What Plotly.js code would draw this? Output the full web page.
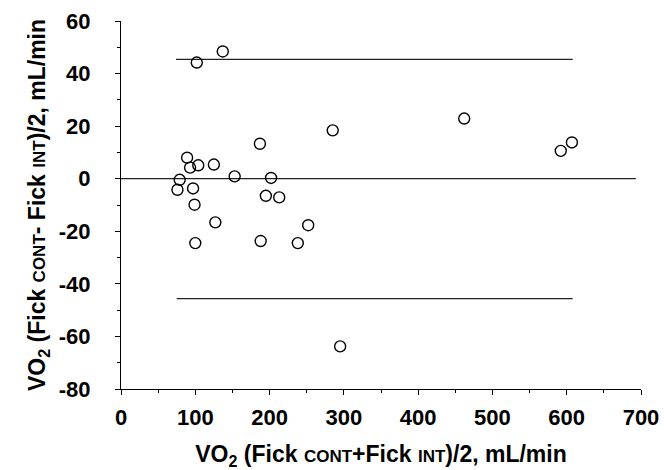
<!DOCTYPE html>
<html>
<head>
<meta charset="utf-8">
<script src="https://cdn.plot.ly/plotly-3.0.1.min.js"></script>
<style>html,body{margin:0;padding:0;background:#fff;}#chart{width:664px;height:470px;}</style>
</head>
<body>
<div id="chart"></div>
<script>
// Mean of the two methods (x) and difference (y), mL/min
var meanVO2 = [137, 102, 285, 187, 89, 93, 104, 125, 153, 202, 79, 76, 97, 195, 213, 99, 127, 252, 100, 188, 238, 295, 462, 592, 607];
var diffVO2 = [48.4, 44.2, 18.4, 13.3, 8.0, 4.2, 5.1, 5.4, 0.9, 0.3, -0.4, -4.2, -3.7, -6.5, -7.1, -9.9, -16.6, -17.7, -24.5, -23.7, -24.5, -63.8, 22.9, 10.6, 13.8];

// Limits of agreement and mean bias lines
var upperLimit = 45.4;
var upperX = [74, 608];
var biasLine = 0;
var biasX = [0, 693];
var lowerLimit = -45.6;
var lowerX = [75, 608];

var xTicks = [0, 100, 200, 300, 400, 500, 600, 700];
var yTicks = [-80, -60, -40, -20, 0, 20, 40, 60];

var lineStyle = {color: '#222', width: 1.2};
var traces = [
  {x: upperX, y: [upperLimit, upperLimit], mode: 'lines', line: lineStyle, hoverinfo: 'skip'},
  {x: biasX, y: [biasLine, biasLine], mode: 'lines', line: lineStyle, hoverinfo: 'skip'},
  {x: lowerX, y: [lowerLimit, lowerLimit], mode: 'lines', line: lineStyle, hoverinfo: 'skip'},
  {x: meanVO2, y: diffVO2, mode: 'markers', cliponaxis: false,
   marker: {symbol: 'circle-open', size: 11, color: '#000', line: {color: '#000', width: 1.4}}}
];

var fam = '"Liberation Sans", Arial, sans-serif';
function bold(v) { return '<b>' + v + '</b>'; }
var sc = '<span style="font-size:17px">';
var layout = {
  width: 664, height: 470,
  margin: {l: 121, r: 23, t: 21, b: 81, pad: 0},
  paper_bgcolor: '#fff', plot_bgcolor: '#fff',
  showlegend: false,
  font: {family: fam, color: '#000'},
  xaxis: {
    range: [0, 700], tickvals: xTicks, ticktext: xTicks.map(bold),
    showline: true, linecolor: '#000', linewidth: 1, zeroline: false, showgrid: false,
    ticks: 'outside', ticklen: 5, tickcolor: '#000', tickwidth: 1,
    minor: {tickvals: [50, 150, 250, 350, 450, 550, 650], ticklen: 3, tickcolor: '#000', ticks: 'outside'},
    tickfont: {family: fam, size: 22, color: '#000'},
    ticklabelstandoff: 4,
    title: {text: '<b>VO<sub>2</sub> (Fick ' + sc + 'CONT</span>+Fick ' + sc + 'INT</span>)/2, mL/min</b>',
            font: {family: fam, size: 23, color: '#000'}, standoff: 18}
  },
  yaxis: {
    range: [-80, 60], tickvals: yTicks, ticktext: yTicks.map(bold),
    showline: true, linecolor: '#000', linewidth: 1, zeroline: false, showgrid: false,
    ticks: 'outside', ticklen: 5, tickcolor: '#000', tickwidth: 1,
    minor: {tickvals: [-70, -50, -30, -10, 10, 30, 50], ticklen: 3, tickcolor: '#000', ticks: 'outside'},
    tickfont: {family: fam, size: 22, color: '#000'},
    ticklabelstandoff: 20,
    title: {text: '<b>VO<sub>2</sub> (Fick ' + sc + 'CONT</span>- Fick ' + sc + 'INT</span>)/2, mL/min</b>',
            font: {family: fam, size: 23, color: '#000'}, standoff: 6}
  }
};

Plotly.newPlot('chart', traces, layout, {displayModeBar: false, staticPlot: true});
</script>
</body>
</html>
